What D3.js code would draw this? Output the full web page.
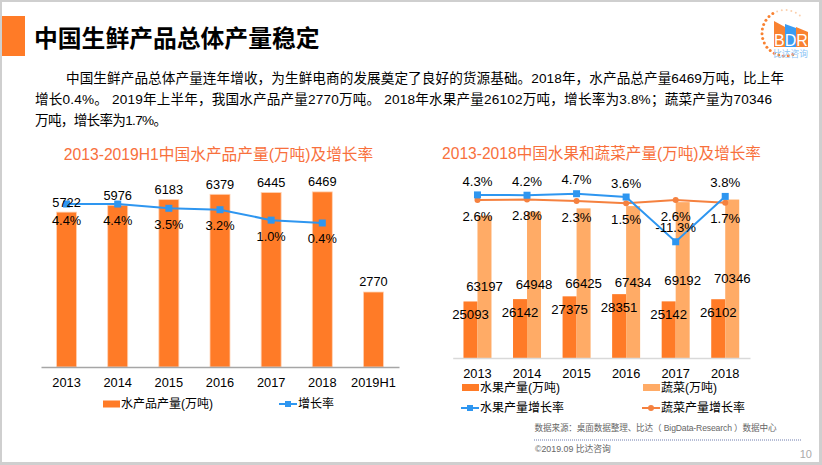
<!DOCTYPE html>
<html>
<head>
<meta charset="utf-8">
<script src="https://cdn.jsdelivr.net/npm/d3@7/dist/d3.min.js"></script>
<style>
html,body{margin:0;padding:0;background:#fff;}
svg{display:block;}
text{font-family:"Liberation Sans","Noto Sans CJK SC",sans-serif;fill:#000;}
</style>
</head>
<body>
<svg id="slide" width="822" height="465"></svg>
<script>
// data
var leftYears = ["2013","2014","2015","2016","2017","2018","2019H1"];
var aquaOutput = [5722,5976,6183,6379,6445,6469,2770];
var aquaGrowth = [4.4,4.4,3.5,3.2,1.0,0.4];

var rightYears = ["2013","2014","2015","2016","2017","2018"];
var fruitOutput = [25093,26142,27375,28351,25142,26102];
var vegOutput = [63197,64948,66425,67434,69192,70346];
var fruitGrowth = [4.3,4.2,4.7,3.6,-11.3,3.8];
var vegGrowth = [2.6,2.8,2.3,1.5,2.6,1.7];

var bodyLines = [
	"中国生鲜产品总体产量连年增收，为生鲜电商的发展奠定了良好的货源基础。2018年，水产品总产量6469万吨，比上年",
	"增长0.4%。 2019年上半年，我国水产品产量2770万吨。 2018年水果产量26102万吨，增长率为3.8%；蔬菜产量为70346",
	"万吨，增长率为1.7%。"
];

var orange = "#ff7b27", lightOrange = "#ffab66", blue = "#2e96f0", lineOrange = "#f5813f", titleOrange = "#f8703c";

var svg = d3.select("#slide");

// slide frame
svg.append("rect").attr("x",0).attr("y",0).attr("width",822).attr("height",465).attr("fill","#cfcfcf");
svg.append("rect").attr("x",2).attr("y",2).attr("width",817).attr("height",460).attr("fill","#fff");

// header
svg.append("rect").attr("x",2).attr("y",16).attr("width",23).attr("height",40).attr("fill",orange);
svg.append("text").attr("x",34).attr("y",46.5).attr("font-size",23.8).attr("font-weight","bold").text("中国生鲜产品总体产量稳定");

var bodyX = [66,35,35], bodyW = [718,737,132];
svg.selectAll(".body").data(bodyLines).enter().append("text")
	.attr("x",function(d,i){ return bodyX[i]; })
	.attr("y",function(d,i){ return 83+i*21; })
	.attr("font-size",13.6)
	.attr("textLength",function(d,i){ return bodyW[i]; })
	.attr("lengthAdjust","spacing")
	.text(function(d){ return d; });

function label(g, x, y, txt, size){
	return g.append("text").attr("x",x).attr("y",y).attr("dy","0.35em")
		.attr("text-anchor","middle").attr("font-size",size||12.8).text(txt);
}

function growthLine(g, x, y, values, color, marker){
	var line = d3.line().x(function(d,i){ return x(i); }).y(function(d){ return y(d); });
	g.append("path").attr("d",line(values)).attr("fill","none").attr("stroke",color).attr("stroke-width",2);
	values.forEach(function(v,i){
		if(marker=="square"){
			g.append("rect").attr("x",x(i)-3.5).attr("y",y(v)-3.5).attr("width",7).attr("height",7).attr("fill",color);
		}else{
			g.append("circle").attr("cx",x(i)).attr("cy",y(v)).attr("r",3).attr("fill",color);
		}
	});
}

function legendBox(g, x, y, w, color, txt){
	g.append("rect").attr("x",x).attr("y",y-3.5).attr("width",w).attr("height",7).attr("fill",color);
	g.append("text").attr("x",x+w+1).attr("y",y).attr("dy","0.35em").attr("font-size",12).text(txt);
}

function legendLine(g, x, y, color, marker, txt){
	g.append("line").attr("x1",x).attr("x2",x+18).attr("y1",y).attr("y2",y).attr("stroke",color).attr("stroke-width",2);
	if(marker=="square"){
		g.append("rect").attr("x",x+6).attr("y",y-3).attr("width",6).attr("height",6).attr("fill",color);
	}else{
		g.append("circle").attr("cx",x+9).attr("cy",y).attr("r",3).attr("fill",color);
	}
	g.append("text").attr("x",x+19).attr("y",y).attr("dy","0.35em").attr("font-size",12).text(txt);
}

function xAxis(g, x, baseY, color, size){
	var axis = g.append("g").attr("transform","translate(0,"+baseY+")")
		.call(d3.axisBottom(x).tickSize(0).tickPadding(10.5));
	axis.select(".domain").attr("stroke",color).attr("stroke-width",1.3);
	axis.selectAll("text").attr("font-size",size);
}

// left chart
var left = svg.append("g");
label(left, 218.5, 155, "2013-2019H1中国水产品产量(万吨)及增长率", 15.7).style("fill",titleOrange);

var lx = d3.scaleBand().domain(leftYears).range([41,399]);
var ly = d3.scaleLinear().domain([0,7000]).range([367,177.5]);
var lp = d3.scaleLinear().domain([-30,10]).range([367,177.5]);
var lc = function(i){ return lx(leftYears[i])+lx.bandwidth()/2; };

left.selectAll(".bar").data(aquaOutput).enter().append("rect")
	.attr("x",function(d,i){ return lc(i)-10; })
	.attr("y",function(d){ return ly(d); })
	.attr("width",20)
	.attr("height",function(d){ return ly(0)-ly(d); })
	.attr("fill",orange)
	.attr("stroke","#ffd3b5").attr("stroke-width",0.8);
xAxis(left, lx, 367, "#a6a6a6", 12.8);
growthLine(left, lc, lp, aquaGrowth, blue, "square");
aquaOutput.forEach(function(v,i){ label(left, lc(i), ly(v)-10, v); });
aquaGrowth.forEach(function(v,i){ label(left, lc(i), lp(v)+16, v.toFixed(1)+"%"); });
legendBox(left, 103, 404, 17, orange, "水产品产量(万吨)");
legendLine(left, 279, 404, blue, "square", "增长率");

// right chart
var right = svg.append("g");
label(right, 601.5, 154, "2013-2018中国水果和蔬菜产量(万吨)及增长率", 15.6).style("fill",titleOrange);

var rx = d3.scaleBand().domain(rightYears).range([452.7,750]);
var ry = d3.scaleLinear().domain([0,80000]).range([358,177.8]);
var rp = d3.scaleLinear().domain([-50,10]).range([358,177.8]);
var rc = function(i){ return rx(rightYears[i])+rx.bandwidth()/2; };

right.selectAll(".fruit").data(fruitOutput).enter().append("rect")
	.attr("x",function(d,i){ return rc(i)-14; })
	.attr("y",function(d){ return ry(d); })
	.attr("width",14)
	.attr("height",function(d){ return ry(0)-ry(d); })
	.attr("fill",orange);
right.selectAll(".veg").data(vegOutput).enter().append("rect")
	.attr("x",function(d,i){ return rc(i); })
	.attr("y",function(d){ return ry(d); })
	.attr("width",14)
	.attr("height",function(d){ return ry(0)-ry(d); })
	.attr("fill",lightOrange);
xAxis(right, rx, 358, "#d9d9d9", 12.8);
growthLine(right, rc, rp, vegGrowth, lineOrange, "circle");
growthLine(right, rc, rp, fruitGrowth, blue, "square");
fruitOutput.forEach(function(v,i){ label(right, rc(i)-7, ry(v)+13, v, 13.2); });
vegOutput.forEach(function(v,i){ label(right, rc(i)+7, ry(v/2), v, 13.2); });
fruitGrowth.forEach(function(v,i){ label(right, rc(i), rp(v)-14, v.toFixed(1)+"%", 13.2); });
vegGrowth.forEach(function(v,i){ label(right, rc(i), rp(v)+16, v.toFixed(1)+"%", 13.2); });
legendBox(right, 462, 387.5, 17, orange, "水果产量(万吨)");
legendBox(right, 643, 387.5, 17, lightOrange, "蔬菜(万吨)");
legendLine(right, 461, 408, blue, "square", "水果产量增长率");
legendLine(right, 642, 408, lineOrange, "circle", "蔬菜产量增长率");

// footer
var foot = svg.append("g");
foot.append("text").attr("x",534.5).attr("y",431).attr("font-size",8.6)
	.attr("textLength",242).attr("lengthAdjust","spacing").style("fill","#666")
	.text("数据来源：桌面数据整理、比达（ BigData-Research ）数据中心");
foot.append("line").attr("x1",534).attr("x2",801).attr("y1",440).attr("y2",440)
	.attr("stroke","#4a5a9a").attr("stroke-width",0.8).attr("stroke-dasharray","1 1");
foot.append("text").attr("x",535).attr("y",451.5).attr("font-size",8.8).style("fill","#666").text("©2019.09 比达咨询");
foot.append("text").attr("x",812).attr("y",458).attr("text-anchor","end").attr("font-size",11).style("fill","#aaa").text("10");

// logo
var logo = svg.append("g");
d3.range(0,21).forEach(function(i){
	var a = (70+i*12)*Math.PI/180;
	logo.append("circle").attr("cx",785+23*Math.cos(a)).attr("cy",33+23*Math.sin(a)).attr("r",i<15 ? 1.5 : 1)
		.attr("fill",i<15 ? "#f98231" : "#fbd0ae");
});
logo.append("path").attr("d","M774,47V21L785,27V47Z").attr("fill","#f98231");
logo.append("path").attr("d","M785,47V24L796,28V47Z").attr("fill","#3a9cf3");
logo.append("path").attr("d","M796,47V27L808,32V47Z").attr("fill","#f98231");
logo.append("text").attr("x",791).attr("y",46).attr("text-anchor","middle").attr("font-size",16).style("fill","#fff").text("BDR");
logo.append("text").attr("x",790.5).attr("y",57).attr("text-anchor","middle").attr("font-size",8.7).style("fill","#8cc4f5").text("比达咨询");
</script>
</body>
</html>
